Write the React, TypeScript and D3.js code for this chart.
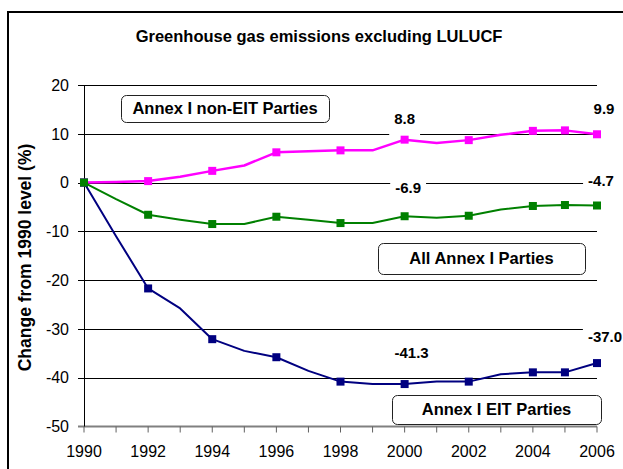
import { useEffect, useRef } from "react";
import * as d3 from "d3";

// values (% change from 1990)
const years = [1990, 1991, 1992, 1993, 1994, 1995, 1996, 1997, 1998, 1999, 2000, 2001, 2002, 2003, 2004, 2005, 2006];
const nonEit = [0, 0.1, 0.3, 1.2, 2.4, 3.5, 6.2, 6.4, 6.6, 6.6, 8.8, 8.1, 8.7, 9.8, 10.6, 10.7, 9.9];
const eit = [0, -11.0, -21.7, -25.8, -32.1, -34.5, -35.8, -38.6, -40.8, -41.3, -41.3, -40.8, -40.8, -39.3, -38.9, -38.9, -37.0];
const allAnnexI = [0, -3.4, -6.6, -7.6, -8.5, -8.5, -7.0, -7.6, -8.3, -8.3, -6.9, -7.2, -6.8, -5.5, -4.8, -4.6, -4.7];
const markerYears = [1990, 1992, 1994, 1996, 1998, 2000, 2002, 2004, 2005, 2006];
const yTicks = [-50, -40, -30, -20, -10, 0, 10, 20];
const xLabelYears = [1990, 1992, 1994, 1996, 1998, 2000, 2002, 2004, 2006];

const FONT = "'Liberation Sans', Arial, sans-serif";
// plain hyphen for negatives, like the original
const fmt = (spec: string) => (v: number) => d3.format(spec)(v).replace("\u2212", "-");

export default function App() {
  const ref = useRef<SVGSVGElement>(null);

  useEffect(() => {
    if (!ref.current) return;
    const svg = d3.select(ref.current);
    svg.selectAll("*").remove();

    const x = d3.scaleLinear().domain([1990, 2006]).range([84, 597]);
    const y = d3.scaleLinear().domain([-50, 20]).range([426.5, 85]);

    // outer frame
    svg.append("rect")
      .attr("x", 8).attr("y", 12).attr("width", 700).attr("height", 600)
      .attr("fill", "white").attr("stroke", "black").attr("stroke-width", 2);

    // title
    svg.append("text")
      .attr("x", 319).attr("y", 41.7)
      .attr("text-anchor", "middle")
      .attr("font-family", FONT).attr("font-weight", "bold").attr("font-size", 16.5)
      .text("Greenhouse gas emissions excluding LULUCF");

    // gridlines + y ticks
    svg.append("g").selectAll("line")
      .data(yTicks.filter((t) => t !== -50))
      .join("line")
      .attr("x1", 78).attr("x2", x(2006))
      .attr("y1", (d) => Math.round(y(d)) + 0.5).attr("y2", (d) => Math.round(y(d)) + 0.5)
      .attr("stroke", "black").attr("stroke-width", 1);

    svg.append("g").selectAll("text")
      .data(yTicks)
      .join("text")
      .attr("x", 69).attr("y", (d) => y(d))
      .attr("dy", "0.36em")
      .attr("text-anchor", "end")
      .attr("font-family", FONT).attr("font-size", 16)
      .text((d) => fmt("d")(d));

    // x axis
    svg.append("line")
      .attr("x1", 78).attr("x2", x(2006))
      .attr("y1", y(-50)).attr("y2", y(-50))
      .attr("stroke", "#808080").attr("stroke-width", 2);
    svg.append("g").selectAll("line")
      .data(years)
      .join("line")
      .attr("x1", (d) => x(d)).attr("x2", (d) => x(d))
      .attr("y1", y(-50)).attr("y2", y(-50) + 6)
      .attr("stroke", "#606060").attr("stroke-width", 1);
    svg.append("g").selectAll("text")
      .data(xLabelYears)
      .join("text")
      .attr("x", (d) => x(d)).attr("y", 457)
      .attr("text-anchor", "middle")
      .attr("font-family", FONT).attr("font-size", 16)
      .text((d) => String(d));

    // y axis line
    svg.append("line")
      .attr("x1", 84.5).attr("x2", 84.5)
      .attr("y1", y(20)).attr("y2", y(-50))
      .attr("stroke", "black").attr("stroke-width", 1);

    // y axis title
    svg.append("text")
      .attr("transform", `translate(31,257.5) rotate(-90)`)
      .attr("text-anchor", "middle")
      .attr("font-family", FONT).attr("font-weight", "bold").attr("font-size", 17.5)
      .text("Change from 1990 level (%)");

    // series
    const series = [
      { values: nonEit, color: "#FF00FF", width: 2.5 },
      { values: eit, color: "#000080", width: 2 },
      { values: allAnnexI, color: "#008000", width: 2 },
    ];
    const line = d3.line<number>()
      .x((_, i) => x(years[i]))
      .y((d) => y(d));

    series.forEach((s) => {
      svg.append("path")
        .attr("d", line(s.values))
        .attr("fill", "none")
        .attr("stroke", s.color)
        .attr("stroke-width", s.width)
        .attr("stroke-linejoin", "round");
      svg.append("g").selectAll("rect")
        .data(markerYears)
        .join("rect")
        .attr("x", (d) => x(d) - 4)
        .attr("y", (d) => y(s.values[years.indexOf(d)]) - 4)
        .attr("width", 8).attr("height", 8)
        .attr("fill", s.color);
    });

    // data labels (value at 2000 and 2006), offsets from their point
    const labels = [
      { year: 2000, values: nonEit, dx: 0, dy: -21.5 },
      { year: 2006, values: nonEit, dx: 7, dy: -25.5 },
      { year: 2000, values: allAnnexI, dx: 3.5, dy: -28.5 },
      { year: 2006, values: allAnnexI, dx: 4, dy: -25 },
      { year: 2000, values: eit, dx: 7, dy: -31 },
      { year: 2006, values: eit, dx: 8, dy: -26.5 },
    ];
    labels.forEach((l) => {
      const v = l.values[years.indexOf(l.year)];
      const cx = x(l.year) + l.dx;
      const cy = y(v) + l.dy;
      const g = svg.append("g");
      const bg = g.append("rect").attr("fill", "white");
      const t = g.append("text")
        .attr("x", cx).attr("y", cy).attr("dy", "0.36em")
        .attr("text-anchor", "middle")
        .attr("font-family", FONT).attr("font-weight", "bold").attr("font-size", 15)
        .text(fmt(".1f")(v));
      const w = (t.node() as SVGTextElement).getComputedTextLength();
      bg.attr("x", cx - w / 2 - 5).attr("y", cy - 13)
        .attr("width", w + 10).attr("height", 30);
    });

    // text boxes
    const boxes = [
      { text: "Annex I non-EIT Parties", x0: 121, y0: 95, x1: 329, y1: 122 },
      { text: "All Annex I Parties", x0: 378, y0: 243, x1: 585, y1: 274 },
      { text: "Annex I EIT Parties", x0: 392, y0: 395, x1: 601, y1: 424 },
    ];
    boxes.forEach((b) => {
      svg.append("rect")
        .attr("x", b.x0 + 0.5).attr("y", b.y0 + 0.5)
        .attr("width", b.x1 - b.x0).attr("height", b.y1 - b.y0)
        .attr("rx", 5)
        .attr("fill", "white").attr("stroke", "#222").attr("stroke-width", 1);
      svg.append("text")
        .attr("x", (b.x0 + b.x1) / 2).attr("y", (b.y0 + b.y1) / 2)
        .attr("dy", "0.36em")
        .attr("text-anchor", "middle")
        .attr("font-family", FONT).attr("font-weight", "bold").attr("font-size", 16.5)
        .text(b.text);
    });
  }, []);

  return (
    <svg
      ref={ref}
      width={623}
      height={469}
      style={{ position: "absolute", left: 0, top: 0, background: "white" }}
    />
  );
}
